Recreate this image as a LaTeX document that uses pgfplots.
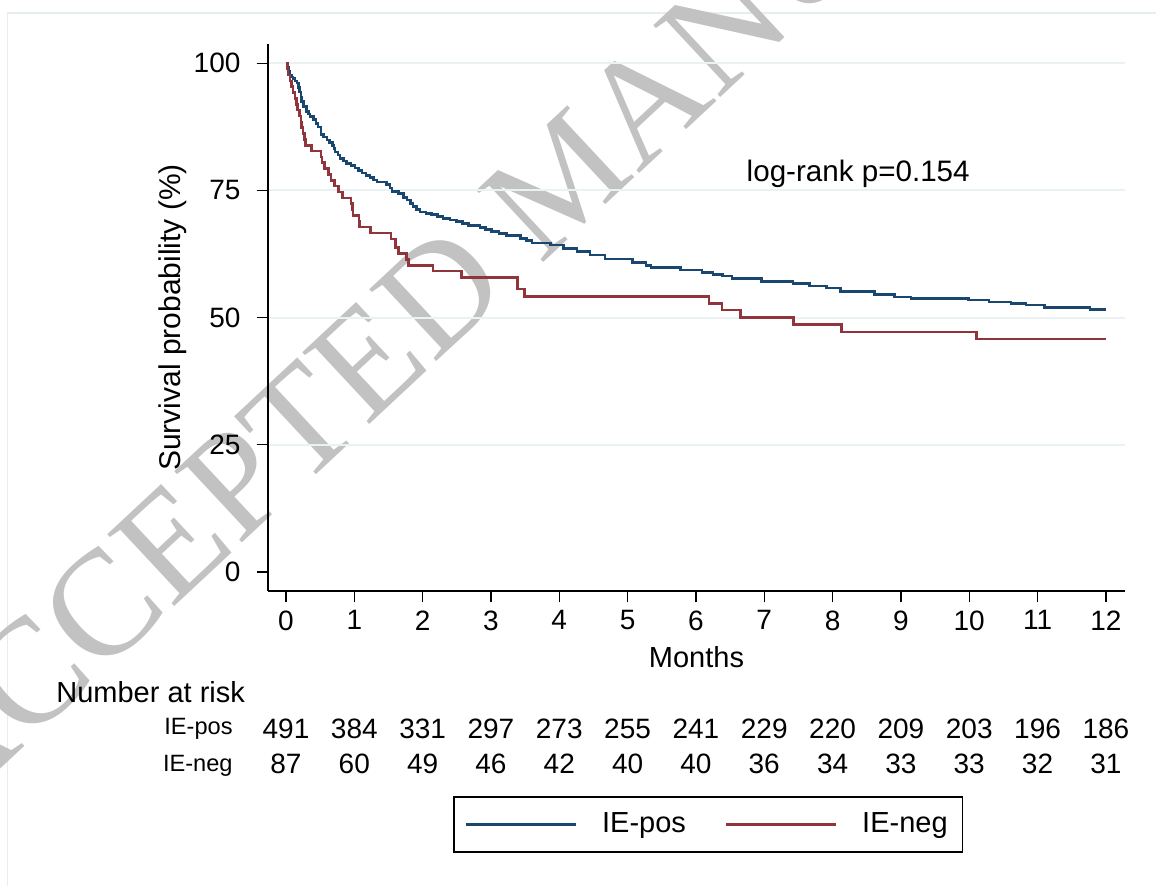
\documentclass[border=0pt]{standalone}
\usepackage{fontspec}
\setmainfont{Liberation Sans}
\newfontfamily\wmfont{Liberation Serif}
\usepackage{pgfplots}
\pgfplotsset{compat=1.18}
\definecolor{kmblue}{HTML}{1A476F}
\definecolor{kmred}{HTML}{90353B}
\definecolor{gridc}{HTML}{EAF2F3}
\definecolor{framec}{HTML}{E6EEEE}
\definecolor{wmc}{HTML}{C2C2C2}
\newcommand{\fs}[1]{\fontsize{#1}{#1}\selectfont}

\pgfplotstableread{
t S
0 100
0.02 99.2
0.04 98.4
0.05 97.7
0.08 97.3
0.10 97.0
0.13 96.5
0.16 96.1
0.18 95.3
0.20 94.4
0.22 93.4
0.23 92.5
0.26 91.5
0.30 90.5
0.33 90.0
0.35 89.5
0.40 88.9
0.44 88.2
0.47 87.5
0.51 86.0
0.55 85.5
0.60 84.9
0.64 84.4
0.68 83.9
0.70 83.2
0.72 82.6
0.76 82.0
0.79 81.3
0.84 80.8
0.89 80.3
0.95 79.9
1.01 79.4
1.06 78.9
1.11 78.4
1.17 78.0
1.23 77.5
1.28 77.1
1.33 76.7
1.47 76.2
1.52 75.5
1.55 74.8
1.65 74.4
1.72 73.6
1.77 73.1
1.82 72.4
1.86 71.8
1.91 71.3
1.96 70.8
2.05 70.5
2.13 70.3
2.22 69.9
2.30 69.5
2.40 69.2
2.50 68.9
2.58 68.5
2.67 68.1
2.84 67.7
2.92 67.3
3.01 66.9
3.12 66.5
3.23 66.1
3.43 65.6
3.52 65.2
3.60 64.7
3.87 64.3
4.06 63.6
4.26 63.0
4.45 62.3
4.67 61.5
5.07 60.9
5.27 60.3
5.34 59.9
5.77 59.4
6.09 58.9
6.25 58.5
6.39 58.2
6.53 57.7
6.96 57.1
7.42 56.7
7.66 56.2
7.91 55.8
8.12 55.1
8.61 54.5
8.91 54.1
9.15 53.8
9.99 53.5
10.29 53.1
10.61 52.8
10.83 52.5
11.10 52.0
11.77 51.6
12.00 51.6
}\iepos

\pgfplotstableread{
t S
0 100
0.02 98.85
0.03 97.7
0.06 96.55
0.08 95.4
0.10 94.25
0.13 93.1
0.15 91.95
0.17 90.8
0.20 89.65
0.22 88.5
0.23 87.35
0.25 86.2
0.27 85.05
0.29 83.9
0.37 82.75
0.51 81.6
0.53 80.45
0.56 79.3
0.62 78.15
0.66 77.0
0.71 75.85
0.77 74.7
0.83 73.55
0.95 72.4
0.97 71.25
0.98 70.1
1.07 68.95
1.08 67.8
1.24 66.65
1.54 65.5
1.60 63.8
1.65 62.6
1.76 61.4
1.79 60.3
2.15 59.2
2.57 57.9
3.39 55.6
3.49 54.2
6.19 52.8
6.38 51.5
6.65 50.0
7.43 48.6
8.13 47.2
10.11 45.8
12.00 45.8
}\ieneg

\begin{document}
\begin{tikzpicture}[x=1pt,y=1pt]
\path[use as bounding box] (0,0) rectangle (578,443);
\draw[framec, line width=0.8pt] (3.75,0) -- (3.75,436.4) -- (578,436.4);
\node[rotate=43, anchor=base west, inner sep=0pt, font=\wmfont\fs{75}, text=wmc] at (-27,33) {ACCEPTED MANUSCRIPT};
\begin{axis}[
  at={(134pt,147.5pt)}, anchor=south west,
  scale only axis, width=428.5pt, height=273.5pt,
  xmin=-0.263, xmax=12.28, ymin=-3.73, ymax=103.8,
  axis lines=left, axis line style={-, black, line width=0.7pt},
  xtick={0,1,...,12}, ytick={25,50,75,100},
  extra y ticks={0}, extra y tick style={grid=none},
  ymajorgrids, grid style={gridc, line width=1pt},
  tick align=outside, major tick length=5.75pt,
  tick style={black, line width=0.65pt},
  /pgf/number format/assume math mode=true,
  ticklabel style={font=\fs{14}},
  yticklabel style={xshift=-4.5pt},
  xticklabel style={yshift=-0.5pt},
  xlabel={Months}, ylabel={Survival probability (\%)},
  xlabel style={at={(axis description cs:0.5,-0.1207)}, anchor=center, font=\fs{14.5}},
  ylabel style={at={(axis description cs:-0.1114,0.5)}, anchor=center, font=\fs{15}},
  clip=false,
  legend columns=2,
  legend image code/.code={\draw[#1, line width=1.3pt] (0pt,0pt) -- (55pt,0pt); \path[draw=none, fill=none] (0pt,-0.1pt) rectangle (66pt,0.1pt);},
  legend style={at={(axis description cs:0.2159,-0.3748)}, anchor=north west,
    draw=black, line width=0.8pt, font=\fs{14.5},
    inner xsep=5.5pt, inner ysep=6pt,
    /tikz/every even column/.append style={column sep=17.5pt}},
]
\addplot[const plot, kmblue, line width=1.3pt] table[x=t, y=S] {\iepos};
\addlegendentry{IE-pos}
\addplot[const plot, kmred, line width=1.3pt] table[x=t, y=S] {\ieneg};
\addlegendentry{IE-neg}

\node[anchor=base west, font=\fs{14.8}] at (axis cs:6.64,76.7) {log-rank p=0.154};

\node[anchor=base, font=\fs{14}] at (axis cs:0,-32.63) {491};
\node[anchor=base, font=\fs{14}] at (axis cs:1,-32.63) {384};
\node[anchor=base, font=\fs{14}] at (axis cs:2,-32.63) {331};
\node[anchor=base, font=\fs{14}] at (axis cs:3,-32.63) {297};
\node[anchor=base, font=\fs{14}] at (axis cs:4,-32.63) {273};
\node[anchor=base, font=\fs{14}] at (axis cs:5,-32.63) {255};
\node[anchor=base, font=\fs{14}] at (axis cs:6,-32.63) {241};
\node[anchor=base, font=\fs{14}] at (axis cs:7,-32.63) {229};
\node[anchor=base, font=\fs{14}] at (axis cs:8,-32.63) {220};
\node[anchor=base, font=\fs{14}] at (axis cs:9,-32.63) {209};
\node[anchor=base, font=\fs{14}] at (axis cs:10,-32.63) {203};
\node[anchor=base, font=\fs{14}] at (axis cs:11,-32.63) {196};
\node[anchor=base, font=\fs{14}] at (axis cs:12,-32.63) {186};

\node[anchor=base, font=\fs{14}] at (axis cs:0,-39.51) {87};
\node[anchor=base, font=\fs{14}] at (axis cs:1,-39.51) {60};
\node[anchor=base, font=\fs{14}] at (axis cs:2,-39.51) {49};
\node[anchor=base, font=\fs{14}] at (axis cs:3,-39.51) {46};
\node[anchor=base, font=\fs{14}] at (axis cs:4,-39.51) {42};
\node[anchor=base, font=\fs{14}] at (axis cs:5,-39.51) {40};
\node[anchor=base, font=\fs{14}] at (axis cs:6,-39.51) {40};
\node[anchor=base, font=\fs{14}] at (axis cs:7,-39.51) {36};
\node[anchor=base, font=\fs{14}] at (axis cs:8,-39.51) {34};
\node[anchor=base, font=\fs{14}] at (axis cs:9,-39.51) {33};
\node[anchor=base, font=\fs{14}] at (axis cs:10,-39.51) {33};
\node[anchor=base, font=\fs{14}] at (axis cs:11,-39.51) {32};
\node[anchor=base, font=\fs{14}] at (axis cs:12,-39.51) {31};
\end{axis}

\node[anchor=base west, inner sep=0pt, font=\fs{14.5}] at (28,91.5) {Number at risk};
\node[anchor=base east, inner sep=0pt, font=\fs{11.8}] at (116.5,75.5) {IE-pos};
\node[anchor=base east, inner sep=0pt, font=\fs{11.8}] at (116.5,57) {IE-neg};
\end{tikzpicture}
\end{document}
